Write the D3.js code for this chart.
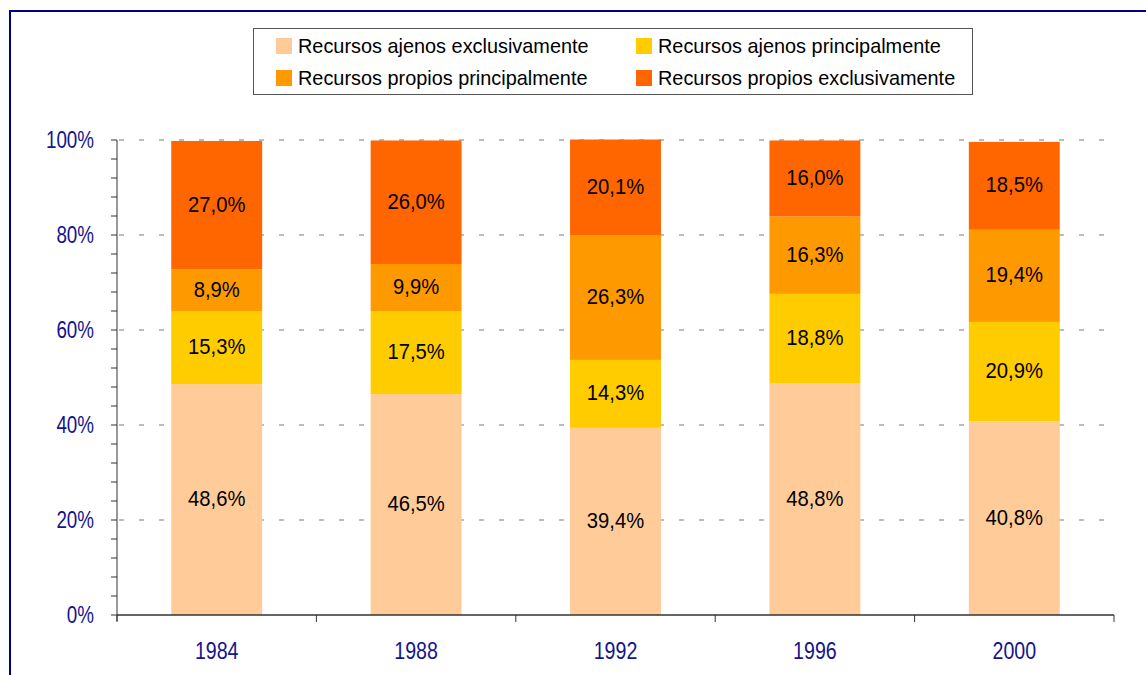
<!DOCTYPE html>
<html>
  <head>
    <meta charset="utf-8">
    <title>Recursos - barras apiladas</title>
    <style>
      body { margin: 0; padding: 0; overflow: hidden; background: #fff; }
      svg { display: block; font-family: Arial, "Liberation Sans", sans-serif; }
    </style>
    <script src="https://cdn.jsdelivr.net/npm/d3@7/dist/d3.min.js"></script>
  </head>
  <body>
    <svg width="1146" height="675"></svg>
    <script>
      // Datos
      const years = ['1984', '1988', '1992', '1996', '2000'];
      const seriesNames = [
        'Recursos ajenos exclusivamente',
        'Recursos ajenos principalmente',
        'Recursos propios principalmente',
        'Recursos propios exclusivamente'
      ];
      const ajenosExcl = [48.6, 46.5, 39.4, 48.8, 40.8];
      const ajenosPrinc = [15.3, 17.5, 14.3, 18.8, 20.9];
      const propiosPrinc = [8.9, 9.9, 26.3, 16.3, 19.4];
      const propiosExcl = [27.0, 26.0, 20.1, 16.0, 18.5];
      const yTicks = [0, 20, 40, 60, 80, 100];
      const colors = ['#FFCC99', '#FFCC00', '#FF9900', '#FF6600'];

      const svg = d3.select('svg');

      // Marco azul
      svg.append('rect')
        .attr('x', 10).attr('y', 11)
        .attr('width', 1200).attr('height', 700)
        .attr('fill', 'none')
        .attr('stroke', '#000080')
        .attr('stroke-width', 2);

      const plotLeft = 117, plotRight = 1114, plotTop = 140, plotBottom = 615;

      const x = d3.scaleBand().domain(years).range([plotLeft, plotRight]).paddingInner(0).paddingOuter(0);
      const y = d3.scaleLinear().domain([0, 100]).range([plotBottom, plotTop]);

      // Tabla para apilar
      const table = years.map((yr, i) => ({
        year: yr,
        s0: ajenosExcl[i], s1: ajenosPrinc[i], s2: propiosPrinc[i], s3: propiosExcl[i]
      }));
      const stack = d3.stack().keys(['s0', 's1', 's2', 's3'])(table);

      // Rejilla discontinua
      svg.append('g')
        .selectAll('line')
        .data(yTicks.filter(d => d > 0))
        .join('line')
        .attr('x1', plotLeft + 2).attr('x2', plotRight - 8)
        .attr('y1', d => y(d)).attr('y2', d => y(d))
        .attr('stroke', '#a6a6a6')
        .attr('stroke-width', 1.5)
        .attr('stroke-dasharray', '5,15');

      // Barras
      const barW = x.bandwidth() * 0.456;
      const layers = svg.append('g')
        .selectAll('g')
        .data(stack)
        .join('g')
        .attr('fill', (d, i) => colors[i]);

      layers.selectAll('rect')
        .data(d => d)
        .join('rect')
        .attr('x', d => x(d.data.year) + (x.bandwidth() - barW) / 2)
        .attr('width', barW)
        .attr('y', d => y(d[1]))
        .attr('height', d => y(d[0]) - y(d[1]));

      // Etiquetas de datos
      layers.selectAll('text')
        .data(d => d.map(v => ({ v, val: v[1] - v[0] })))
        .join('text')
        .attr('transform', d => {
          const cx = x(d.v.data.year) + x.bandwidth() / 2;
          const cy = y((d.v[0] + d.v[1]) / 2);
          return `translate(${cx},${cy}) scale(0.92,1)`;
        })
        .attr('text-anchor', 'middle')
        .attr('dy', '0.3em')
        .attr('font-size', 22)
        .attr('fill', '#000')
        .text(d => d3.format('.1f')(d.val).replace('.', ',') + '%');

      // Eje Y
      const yMinor = d3.range(0, 101, 4);
      svg.append('line')
        .attr('x1', plotLeft).attr('x2', plotLeft)
        .attr('y1', y(100)).attr('y2', y(0) + 6)
        .attr('stroke', '#333').attr('stroke-width', 1);
      svg.append('g')
        .selectAll('line')
        .data(yMinor)
        .join('line')
        .attr('x1', plotLeft - 6).attr('x2', plotLeft)
        .attr('y1', d => y(d)).attr('y2', d => y(d))
        .attr('stroke', '#333');
      svg.append('g')
        .selectAll('text')
        .data(yTicks)
        .join('text')
        .attr('transform', d => `translate(94,${y(d)}) scale(0.8,1)`)
        .attr('text-anchor', 'end')
        .attr('dy', '0.36em')
        .attr('font-size', 23.5)
        .attr('fill', '#14148c')
        .text(d => d + '%');

      // Eje X
      svg.append('line')
        .attr('x1', plotLeft).attr('x2', plotRight)
        .attr('y1', plotBottom).attr('y2', plotBottom)
        .attr('stroke', '#333').attr('stroke-width', 1.5);
      svg.append('g')
        .selectAll('line')
        .data(years.map(d => x(d)).concat([plotRight]))
        .join('line')
        .attr('x1', d => d).attr('x2', d => d)
        .attr('y1', plotBottom).attr('y2', plotBottom + 7)
        .attr('stroke', '#333');
      svg.append('g')
        .selectAll('text')
        .data(years)
        .join('text')
        .attr('transform', d => `translate(${x(d) + x.bandwidth() / 2},659) scale(0.8,1)`)
        .attr('text-anchor', 'middle')
        .attr('font-size', 24.5)
        .attr('fill', '#14148c')
        .text(d => d);

      // Leyenda
      const legend = svg.append('g');
      legend.append('rect')
        .attr('x', 253.5).attr('y', 28.5)
        .attr('width', 719).attr('height', 66)
        .attr('fill', '#fff')
        .attr('stroke', '#555');
      const legPos = [[276, 38], [636, 38], [276, 70], [636, 70]];
      const items = legend.selectAll('g.item')
        .data(seriesNames)
        .join('g')
        .attr('class', 'item')
        .attr('transform', (d, i) => `translate(${legPos[i][0]},${legPos[i][1]})`);
      items.append('rect')
        .attr('width', 16).attr('height', 16)
        .attr('fill', (d, i) => colors[i]);
      items.append('text')
        .attr('transform', 'translate(22,8) scale(0.97,1)')
        .attr('dy', '0.36em')
        .attr('font-size', 20.5)
        .attr('fill', '#000')
        .text(d => d);
    </script>
  </body>
</html>
